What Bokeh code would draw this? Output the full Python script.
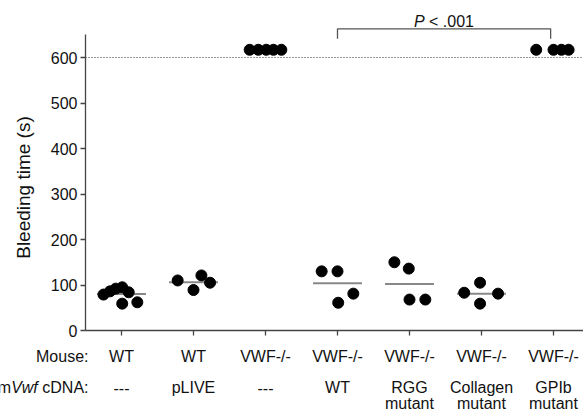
import math
from bokeh.plotting import figure
from bokeh.models import FixedTicker, ColumnDataSource, Range1d
from bokeh.core.properties import value
from bokeh.embed import file_html
from bokeh.resources import INLINE

# ---- data ----
groups = [1, 2, 3, 4, 5, 6, 7]
mouse_labels = ["WT", "WT", "VWF-/-", "VWF-/-", "VWF-/-", "VWF-/-", "VWF-/-"]
cdna_labels = ["---", "pLIVE", "---", "WT", "RGG", "Collagen", "GPIb"]
cdna_labels2 = ["", "", "", "", "mutant", "mutant", "mutant"]

g1_vals = [79, 86, 92, 95, 84, 59, 62]
g1_jit = [-0.25, -0.16, -0.08, 0.01, 0.10, 0.01, 0.22]
g2_vals = [110, 89, 121, 105]
g2_jit = [-0.22, 0.0, 0.11, 0.23]
g3_vals = [617, 617, 617, 617, 617]
g3_jit = [-0.22, -0.10, 0.01, 0.11, 0.22]
g4_vals = [130, 130, 61, 81]
g4_jit = [-0.22, 0.0, 0.01, 0.22]
g5_vals = [150, 136, 68, 68]
g5_jit = [-0.21, -0.01, 0.0, 0.22]
g6_vals = [83, 105, 81, 59]
g6_jit = [-0.24, -0.02, 0.23, -0.02]
g7_vals = [617, 617, 617, 617]
g7_jit = [-0.24, 0.0, 0.11, 0.21]

group_means = [80, 106, None, 104, 102, 81, None]
y_ticks = [0, 100, 200, 300, 400, 500, 600]
y_axis_max = 650
cutoff = 600
bracket_groups = [4, 6.96]
bracket_y = 663
bracket_tick_y = 641
p_text_y = 679
y_title = "Bleeding time (s)"

FONT = "Liberation Sans"
TXT = "#111111"
AX = "#444444"

# layout geometry (pixels): plot area left edge 85, baseline 330
W, H = 583, 412
LEFT, BASE = 85, 330
PXU = 72.0          # px per category
PXV = 0.455         # px per second
X0 = 0.5
x_start = X0 - LEFT / PXU
x_end = X0 + (W - LEFT) / PXU
y_start = -(H - BASE) / PXV
y_end = BASE / PXV

p = figure(width=W, height=H, output_backend="svg", toolbar_location=None,
           x_range=Range1d(x_start, x_end), y_range=Range1d(y_start, y_end),
           min_border_left=0, min_border_right=0, min_border_top=0,
           min_border_bottom=0)
p.outline_line_color = None
p.grid.grid_line_color = None

ax = p.yaxis[0]
ax.fixed_location = X0
ax.ticker = FixedTicker(ticks=y_ticks)
ax.bounds = (0, y_axis_max)
ax.axis_line_color = AX
ax.axis_line_width = 1.3
ax.major_tick_line_color = AX
ax.major_tick_line_width = 1.3
ax.major_tick_out = 5
ax.major_tick_in = 0
ax.minor_tick_line_color = None
ax.major_label_text_font = FONT
ax.major_label_text_font_size = "16px"
ax.major_label_text_color = TXT
ax.major_label_standoff = 3

xa = p.xaxis[0]
xa.fixed_location = 0
xa.ticker = FixedTicker(ticks=groups)
xa.bounds = (X0, x_end)
xa.axis_line_color = AX
xa.axis_line_width = 1.3
xa.major_tick_line_color = AX
xa.major_tick_line_width = 1.3
xa.major_tick_out = 5
xa.major_tick_in = 0
xa.minor_tick_line_color = None
xa.major_label_overrides = {g: "" for g in groups}
xa.major_label_standoff = 0

# y axis title (rotated)
p.text(x=[X0 - (LEFT - 23) / PXU], y=[(BASE - 187) / PXV], text=[y_title],
       angle=math.pi / 2, text_font=value(FONT), text_font_size=value("19px"),
       text_align="center", text_baseline="middle", text_color=TXT)

p.line([X0, x_end], [cutoff, cutoff], line_color="#333333", line_width=1, line_dash="1 2")

for g, m in zip(groups, group_means):
    if m is not None:
        p.line([g - 0.34, g + 0.34], [m, m], line_color="#888888", line_width=2)

all_x, all_y = [], []
for g, vals, jit in [(1, g1_vals, g1_jit), (2, g2_vals, g2_jit), (3, g3_vals, g3_jit),
                     (4, g4_vals, g4_jit), (5, g5_vals, g5_jit), (6, g6_vals, g6_jit),
                     (7, g7_vals, g7_jit)]:
    for v, j in zip(vals, jit):
        all_x.append(g + j)
        all_y.append(v)
src = ColumnDataSource(dict(x=all_x, y=all_y))
p.scatter("x", "y", source=src, size=11, fill_color="black", line_color="black")

b0, b1 = bracket_groups
p.line([b0, b0, b1, b1], [bracket_tick_y, bracket_y, bracket_y, bracket_tick_y],
       line_color="#555555", line_width=1.3)
mid = (b0 + b1) / 2
p.text(x=[mid], y=[p_text_y], text=["P"], x_offset=-30, text_font=value(FONT),
       text_font_size=value("16px"), text_font_style="italic",
       text_align="left", text_baseline="middle", text_color=TXT)
p.text(x=[mid], y=[p_text_y], text=["< .001"], x_offset=-15, text_font=value(FONT),
       text_font_size=value("16px"), text_align="left", text_baseline="middle",
       text_color=TXT)

# category labels below the axis (pixel rows converted to data units)
row_px = [26, 57, 73]
row_y = [-r / PXV for r in row_px]
rows = [mouse_labels, cdna_labels, cdna_labels2]
tx, ty, tt = [], [], []
for yy, labels in zip(row_y, rows):
    for g, t in zip(groups, labels):
        if t:
            tx.append(g)
            ty.append(yy)
            tt.append(t)
p.text(x=tx, y=ty, text=tt, text_font=value(FONT), text_font_size=value("16px"),
       text_align="center", text_baseline="middle", text_color=TXT)

def rtitle(txt, yy, off, italic=False):
    p.text(x=[X0], y=[yy], text=[txt], x_offset=off, text_font=value(FONT),
           text_font_size=value("16px"), text_align="right", text_baseline="middle",
           text_color=TXT, text_font_style="italic" if italic else "normal")

rtitle("Mouse:", row_y[0], 3)
rtitle("cDNA:", row_y[1], 3)
rtitle("Vwf", row_y[1], -47.7, italic=True)
rtitle("m", row_y[1], -74.4)

open("out.html", "w").write(file_html(p, INLINE))
